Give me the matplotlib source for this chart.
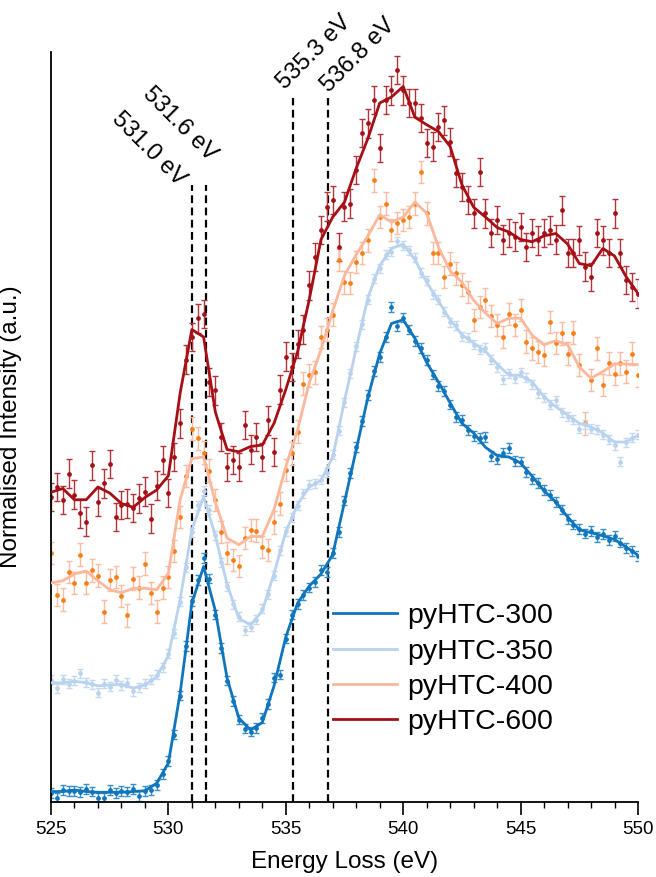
import numpy as np
import matplotlib.pyplot as plt

plt.rcParams['font.family'] = ['Liberation Sans', 'DejaVu Sans']

# energy axes (eV): measured points every 0.25 eV, smoothed curve every 0.5 eV
energy_pts = np.linspace(525, 550, 101)
energy_fit = np.linspace(525, 550, 51)

labels = ['pyHTC-300', 'pyHTC-350', 'pyHTC-400', 'pyHTC-600']

# smoothed curves (offset, arbitrary units)
fit_300 = [1.4, 1.4, 1.6, 1.4, 1.3, 1.3, 1.3, 1.4, 1.5, 2.5, 5.2, 14.5, 26.5, 31.4, 25.5,
           16.5, 11.2, 9.6, 10.6, 15.5, 22.0, 26.5, 28.8, 30.4, 33.0, 40.0, 47.0, 54.0,
           59.8, 63.8, 64.3, 61.8, 58.6, 56.0, 53.2, 50.5, 49.2, 47.3, 46.2, 46.0, 45.2,
           43.4, 41.5, 40.0, 38.0, 36.3, 35.9, 35.5, 35.0, 34.0, 32.9]
fit_350 = [15.9, 15.9, 16.1, 15.9, 15.5, 15.6, 15.7, 15.2, 15.6, 16.7, 19.5, 27.0, 36.3,
           40.7, 35.5, 29.0, 24.5, 23.6, 25.5, 30.5, 36.0, 39.7, 42.0, 42.9, 46.0, 53.5,
           60.5, 67.3, 71.5, 73.8, 74.4, 72.3, 69.3, 66.8, 64.3, 62.3, 61.2, 60.1, 58.4,
           56.9, 56.9, 56.0, 54.0, 52.7, 51.6, 50.5, 50.0, 49.2, 48.0, 48.0, 48.9]
fit_400 = [29.2, 29.5, 30.4, 30.8, 29.5, 28.3, 27.9, 28.5, 28.5, 28.3, 30.5, 40.3, 45.8,
           46.0, 40.0, 35.2, 34.3, 35.4, 35.4, 39.0, 44.7, 49.6, 55.9, 60.3, 65.5, 70.2,
           73.0, 75.5, 78.3, 77.3, 78.0, 80.0, 78.5, 74.0, 70.8, 69.3, 66.9, 65.2, 63.8,
           64.5, 64.5, 62.2, 61.0, 61.5, 61.0, 58.0, 56.5, 57.4, 58.4, 58.4, 58.3]
fit_600 = [41.3, 41.8, 40.3, 40.3, 42.0, 41.2, 39.8, 39.3, 40.6, 41.6, 43.5, 54.5, 63.0,
           62.0, 52.0, 47.0, 46.7, 47.4, 47.6, 50.5, 55.0, 60.0, 67.0, 75.0, 78.0, 80.0,
           84.5, 88.5, 93.2, 94.0, 95.4, 91.3, 90.3, 89.4, 87.4, 82.3, 79.3, 78.0, 76.6,
           76.0, 75.0, 74.7, 75.5, 75.8, 74.4, 71.8, 71.5, 73.8, 72.8, 70.0, 67.8]

# measured points
pts_300 = [1.2, 0.6, 1.6, 1.5, 1.5, 1.3, 1.7, 1.4, 0.6, 0.5, 1.6, 1.2, 1.5, 1.4, 1.7, 0.8,
           1.5, 1.6, 2.3, 3.7, 5.5, 9.0, 14.2, 20.8, 26.8, 29.6, 32.5, 29.8, 25.0, 20.5,
           16.2, 13.5, 11.0, 9.8, 9.4, 9.9, 11.2, 13.1, 16.6, 17.0, 21.8, 25.0, 26.4, 27.6,
           28.6, 29.3, 30.9, 30.7, 33.2, 36.0, 40.2, 43.9, 47.3, 50.8, 54.3, 57.5, 59.3,
           62.0, 66.0, 63.5, 64.6, 63.0, 61.5, 60.5, 58.9, 57.0, 55.5, 54.8, 53.0, 51.3,
           50.9, 49.6, 48.8, 48.5, 48.7, 46.1, 45.7, 46.6, 47.2, 45.5, 45.4, 44.0, 43.1,
           42.5, 41.6, 40.9, 40.0, 39.0, 37.7, 37.0, 36.4, 35.8, 36.1, 35.3, 35.7, 34.9,
           35.5, 34.6, 33.9, 33.5, 32.8]
pts_350 = [16.3, 15.2, 16.4, 15.8, 16.2, 17.2, 16.0, 15.7, 14.6, 15.8, 15.4, 16.3, 15.6,
           15.9, 14.8, 15.3, 15.8, 16.3, 17.0, 18.0, 19.8, 22.5, 26.7, 31.3, 36.0, 39.6,
           41.5, 39.0, 35.6, 32.0, 28.8, 26.4, 24.7, 22.9, 23.4, 24.3, 25.8, 27.7, 30.2,
           33.6, 36.1, 38.0, 39.5, 41.2, 42.3, 42.5, 43.0, 43.9, 46.3, 49.5, 53.3, 57.2,
           60.8, 63.7, 67.0, 69.8, 71.2, 73.0, 73.4, 74.8, 74.2, 73.6, 72.6, 70.6, 69.6,
           67.7, 67.0, 65.4, 64.0, 63.6, 62.1, 61.9, 61.0, 60.3, 60.6, 59.0, 58.0, 56.4,
           57.2, 56.5, 57.3, 56.6, 55.7, 54.5, 54.0, 53.0, 53.6, 52.0, 51.4, 51.0, 49.8,
           50.4, 49.8, 49.7, 49.0, 48.3, 47.6, 45.4, 48.0, 48.6, 49.0]
pts_400 = [33.2, 27.6, 27.0, 30.7, 29.2, 33.0, 29.2, 30.9, 30.2, 25.4, 29.6, 30.0, 27.5,
           24.9, 29.8, 28.6, 31.8, 27.9, 25.4, 28.6, 30.0, 33.5, 38.0, 43.5, 49.8, 48.5,
           46.6, 44.2, 40.3, 36.0, 33.2, 32.3, 31.5, 35.2, 36.3, 36.2, 34.0, 33.6, 37.3,
           39.8, 44.3, 46.5, 49.4, 55.8, 56.9, 57.3, 62.0, 63.0, 65.0, 72.3, 69.3, 69.2,
           72.0, 73.2, 74.9, 82.9, 78.0, 79.8, 76.3, 77.2, 77.6, 78.0, 79.8, 84.0, 78.5,
           73.2, 73.2, 70.0, 71.8, 70.5, 69.0, 68.0, 64.3, 66.0, 67.0, 64.8, 63.6, 62.0,
           65.1, 63.6, 65.6, 61.4, 60.5, 60.0, 59.6, 64.0, 61.2, 62.5, 59.8, 62.6, 58.3,
           50.5, 56.3, 60.5, 55.6, 58.5, 57.1, 58.5, 57.4, 59.8, 56.9]
pts_600 = [40.7, 42.0, 40.3, 43.8, 41.0, 38.5, 37.4, 44.9, 40.0, 42.5, 45.1, 38.0, 39.6,
           39.8, 39.2, 40.5, 41.4, 37.8, 42.2, 45.6, 41.2, 46.0, 50.5, 59.0, 62.0, 64.5,
           65.1, 56.0, 54.9, 48.7, 44.7, 45.6, 44.7, 50.3, 47.0, 48.7, 46.0, 50.9, 46.7,
           55.0, 59.4, 58.0, 61.1, 63.0, 68.9, 72.7, 76.3, 79.4, 80.3, 74.0, 79.4, 79.8,
           84.3, 89.2, 90.5, 93.6, 87.2, 93.6, 94.9, 97.6, 94.9, 93.2, 93.2, 91.2, 87.9,
           87.4, 90.0, 90.9, 88.0, 83.9, 82.0, 80.3, 78.5, 84.0, 78.5, 75.9, 77.6, 75.0,
           75.9, 75.4, 76.7, 74.0, 75.9, 74.9, 75.9, 76.3, 75.0, 78.9, 73.2, 73.2, 74.9,
           71.4, 70.0, 75.9, 74.9, 73.2, 78.5, 73.2, 69.6, 68.7, 67.8]

# error bar half-widths per sample
err = [0.65, 0.6, 1.5, 1.9]

peaks = [531.0, 531.6, 535.3, 536.8]
peak_text = ['531.0 eV', '531.6 eV', '535.3 eV', '536.8 eV']

fits = [fit_300, fit_350, fit_400, fit_600]
pts = [pts_300, pts_350, pts_400, pts_600]
line_colors = ['#0f75bc', '#b9d3ee', '#fdb79b', '#a50f15']
pt_colors = ['#0f75bc', '#b9d3ee', '#f97f14', '#a50f15']
bar_colors = ['#3a8fcb', '#c3d9f0', '#fcbca2', '#b2343a']

fig = plt.figure(figsize=(6.56, 8.77), dpi=100)
ax = fig.add_axes([0.0777, 0.0855, 0.8949, 0.8552])

# dashed markers at the peak positions
tops = [82.3, 82.3, 93.9, 93.9]
for e, t in zip(peaks, tops):
    ax.plot([e, e], [0, t], color='black', lw=1.6, ls=(0, (3.5, 2)), zorder=1)

handles = []
for i in [3, 2, 1, 0]:
    ax.errorbar(energy_pts, pts[i], yerr=err[i], fmt='o', ms=2.4,
                color=pt_colors[i], ecolor=bar_colors[i], elinewidth=1,
                capsize=2, capthick=1, zorder=2)
    ln, = ax.plot(energy_fit, fits[i], color=line_colors[i], lw=2, zorder=3,
                  label=labels[i])
    handles.append(ln)
handles = handles[::-1]

# peak labels (lower corner of each label)
ax.text(530.24, 81.6, peak_text[0], rotation=-45, rotation_mode='anchor',
        ha='right', va='bottom', fontsize=17)
ax.text(531.56, 84.9, peak_text[1], rotation=-45, rotation_mode='anchor',
        ha='right', va='bottom', fontsize=17)
ax.text(535.12, 94.5, peak_text[2], rotation=45, rotation_mode='anchor',
        ha='left', va='bottom', fontsize=17)
ax.text(537.0, 94.1, peak_text[3], rotation=45, rotation_mode='anchor',
        ha='left', va='bottom', fontsize=17)

ax.set_xlim(525, 550)
ax.set_ylim(0, 100)
ax.set_xticks(np.arange(525, 551, 5))
ax.set_xticks(np.arange(525, 551, 1), minor=True)
ax.tick_params(axis='x', which='major', length=9, width=1.2, labelsize=13.5, pad=5)
ax.tick_params(axis='x', which='minor', length=4.5, width=1)
ax.set_yticks([])
for s in ['top', 'right']:
    ax.spines[s].set_visible(False)
for s in ['left', 'bottom']:
    ax.spines[s].set_linewidth(1.3)

ax.set_xlabel('Energy Loss (eV)', fontsize=17.5, labelpad=9)
ax.set_ylabel('Normalised Intensity (a.u.)', fontsize=17.5)
ax.yaxis.set_label_coords(-0.049, 0.5)

ax.legend(handles=handles, loc='upper left', bbox_to_anchor=(0.48, 0.265),
          frameon=False, fontsize=20.5, handlelength=2.25, handletextpad=0.35,
          labelspacing=0.33, borderpad=0, borderaxespad=0)

plt.savefig('out.png', dpi=100)
